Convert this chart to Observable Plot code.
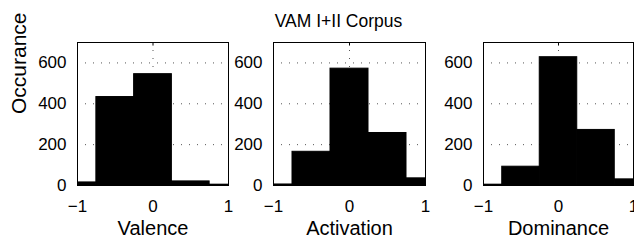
<!DOCTYPE html>
<html><head><meta charset="utf-8">
<script src="https://cdn.jsdelivr.net/npm/d3@7"></script>
<script src="https://cdn.jsdelivr.net/npm/@observablehq/plot@0.6"></script>
<style>
body{margin:0;background:#fff}
#c{position:relative;width:634px;height:240px;overflow:hidden}
#c svg{position:absolute;left:0;top:0}
</style>
</head><body><div id="c"></div>
<script>
// ---- data ----
const title = "VAM I+II Corpus";
const yLabel = "Occurance";
const binCenters = [-1, -0.5, 0, 0.5, 1];
const binWidth = 0.5;
const dimensions = ["Valence", "Activation", "Dominance"];
const valence    = [15, 433, 545, 20, 4];
const activation = [5, 165, 572, 257, 35];
const dominance  = [4, 92, 628, 272, 30];
const yTicks = [0, 200, 400, 600];
const xTicks = [-1, 0, 1];

const series = [valence, activation, dominance];
// ---- layout ----
const frames = [[77, 228], [273, 425], [483, 633]];
const W = 634, H = 240, mTop = 42, mBottom = 55;
const font = "'Liberation Sans', Arial, Helvetica, sans-serif";
const container = document.getElementById("c");

dimensions.forEach((dim, i) => {
  const rows = binCenters.map((c, j) => ({c, n: series[i][j]}));
  const [l, r] = frames[i];
  const marks = [
    Plot.gridY(yTicks.slice(1), {stroke: "#555", strokeOpacity: 1, strokeDasharray: "1,7"}),
    Plot.gridX([0], {stroke: "#555", strokeOpacity: 1, strokeDasharray: "1,7"}),
    Plot.rectY(rows, {x1: d => d.c - binWidth / 2, x2: d => d.c + binWidth / 2, y1: 0, y2: "n", fill: "#000", stroke: "#000", clip: true}),
    Plot.axisX(xTicks, {tickSize: 0, tickPadding: 14, fontSize: 17, label: null}),
    Plot.axisY(yTicks, {tickSize: 0, tickPadding: 11, fontSize: 17, label: null}),
    Plot.ruleX([0], {y1: 700, y2: 700 * 0.975, stroke: "#000"}),
    Plot.frame({stroke: "#000", strokeWidth: 1}),
    Plot.text([dim], {frameAnchor: "bottom", lineAnchor: "middle", dy: 43, fontSize: 20, fill: "#000"})
  ];
  if (i === 0) {
    marks.push(Plot.text([yLabel], {frameAnchor: "left", lineAnchor: "middle", dx: -58.5, rotate: -90, fontSize: 21, fill: "#000"}));
  }
  if (i === 1) {
    marks.push(Plot.text([title], {frameAnchor: "top", lineAnchor: "middle", dx: -11, dy: -21.6, fontSize: 17.5, fill: "#000"}));
  }
  const svg = Plot.plot({
    width: W, height: H,
    marginLeft: l, marginRight: W - r, marginTop: mTop, marginBottom: mBottom,
    x: {domain: [-1, 1]},
    y: {domain: [0, 700]},
    style: {background: "transparent", fontFamily: font, color: "#000", overflow: "visible"},
    marks
  });
  container.appendChild(svg);
});
</script>
</body></html>
